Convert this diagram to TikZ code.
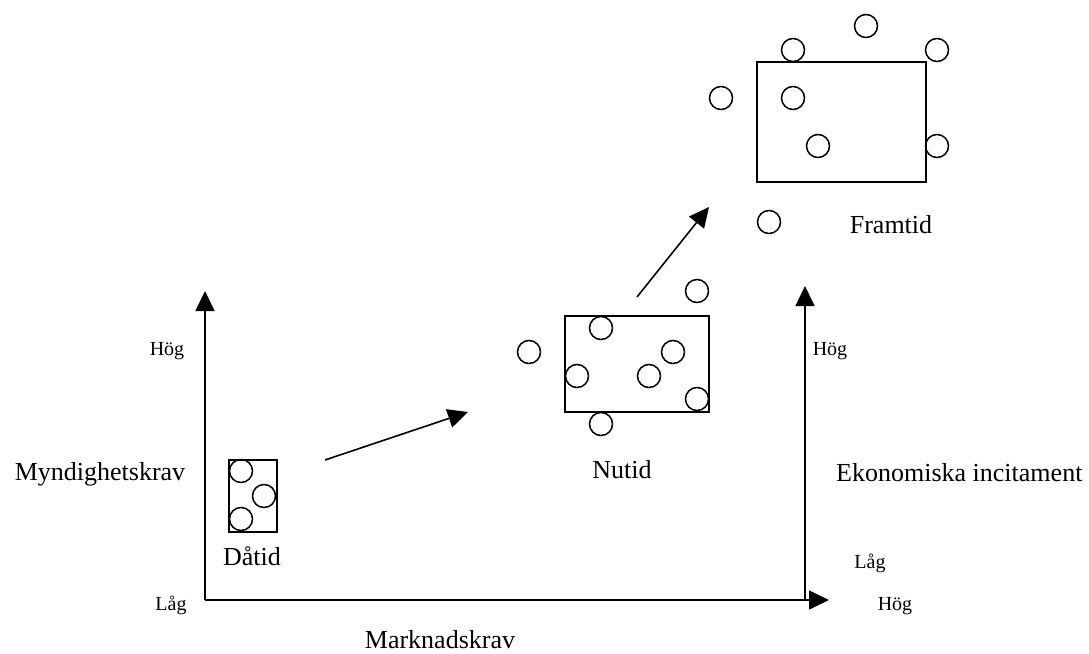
\documentclass[tikz,border=0pt]{standalone}
\usepackage{fontspec}
\setmainfont{Liberation Serif}
\usetikzlibrary{arrows.meta}
\begin{document}
\begin{tikzpicture}[x=1pt,y=-1pt,
  dot/.style={draw,circle,line width=1.5pt,minimum size=23pt,inner sep=0pt},
  box/.style={draw,line width=1.5pt,inner sep=0pt},
  big/.style={font=\fontsize{26}{31}\selectfont,inner sep=0pt,anchor=base},
  small/.style={font=\fontsize{20}{24}\selectfont,inner sep=0pt,anchor=base},
  arr/.style={line width=1.6pt,-{Triangle[length=20pt,width=19pt]}}]
\useasboundingbox (0,0) rectangle (1089,653);

% axes
\coordinate (o) at (205,600);
\coordinate (ytop) at (205,291);
\coordinate (xend) at (829,600);
\coordinate (ro) at (805,600);
\coordinate (rtop) at (805,286);
\draw[arr] (o) -- (ytop);
\draw[arr] (o) -- (xend);
\draw[arr] (ro) -- (rtop);

% boxes
\node[box,minimum width=48pt,minimum height=72pt] (dbox) at (253,496) {};
\node[box,minimum width=144pt,minimum height=96pt] (nbox) at (637,364) {};
\node[box,minimum width=169pt,minimum height=120pt] (fbox) at (841.5,122) {};

% Dåtid circles
\node[dot] (d1) at (241,471) {};
\node[dot] (d2) at (264,496) {};
\node[dot] (d3) at (241,519) {};

% Nutid circles
\node[dot] (n1) at (601,328) {};
\node[dot] (n2) at (529,352) {};
\node[dot] (n3) at (673,352) {};
\node[dot] (n4) at (577,376) {};
\node[dot] (n5) at (649,376) {};
\node[dot] (n6) at (697,399) {};
\node[dot] (n7) at (601,424) {};
\node[dot] (n8) at (697,291) {};

% Framtid circles
\node[dot] (f1) at (793,50) {};
\node[dot] (f2) at (866,26) {};
\node[dot] (f3) at (937,50) {};
\node[dot] (f4) at (721,98) {};
\node[dot] (f5) at (793,98) {};
\node[dot] (f6) at (818,146) {};
\node[dot] (f7) at (937,146) {};
\node[dot] (f8) at (769,222) {};

% arrows between stages
\coordinate (a1s) at (325,460);
\coordinate (a1e) at (468,412);
\coordinate (a2s) at (637,297);
\coordinate (a2e) at (709,207);
\draw[arr] (a1s) -- (a1e);
\draw[arr] (a2s) -- (a2e);

% labels
\node[big] (lmyn) at (100,480) {Myndighetskrav};
\node[big,anchor=base west] (leko) at (836,481) {Ekonomiska incitament};
\node[big] (lmark) at (440,648) {Marknadskrav};
\node[big] (ldat) at (252,565) {Dåtid};
\node[big] (lnut) at (622,478) {Nutid};
\node[big] (lfram) at (891,233) {Framtid};

\node[small] (lh1) at (167,355) {Hög};
\node[small] (ll1) at (171,610) {Låg};
\node[small] (lh2) at (830,355) {Hög};
\node[small] (ll2) at (870,568) {Låg};
\node[small] (lh3) at (895,610) {Hög};
\end{tikzpicture}
\end{document}
